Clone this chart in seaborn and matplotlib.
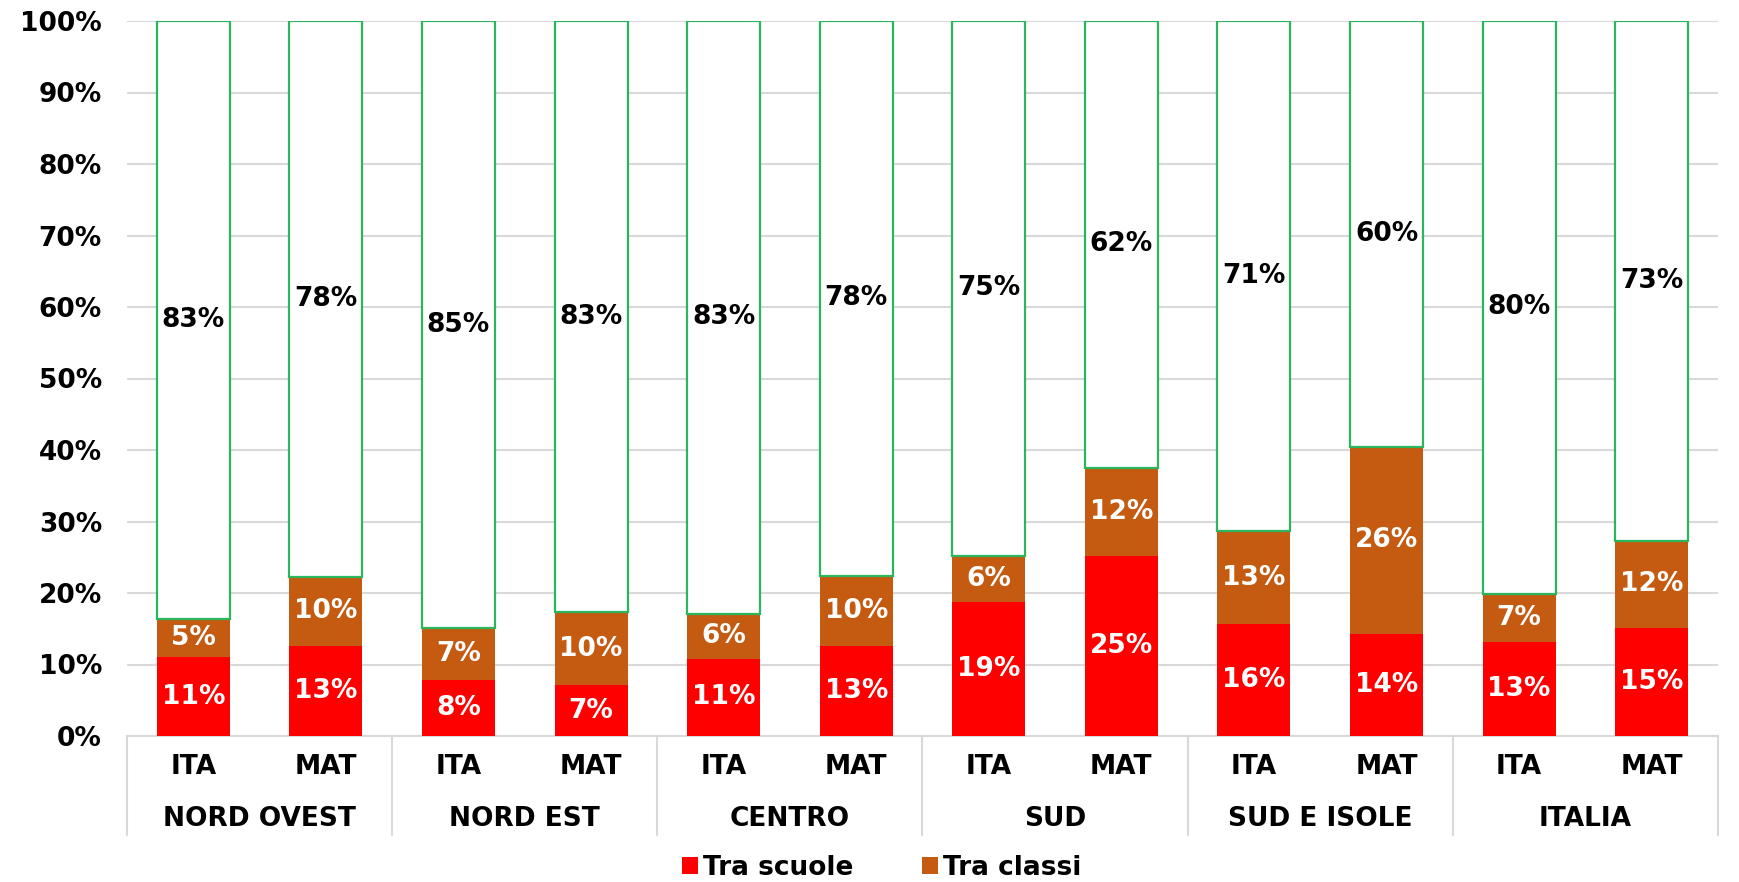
import numpy as np
import pandas as pd
import matplotlib
matplotlib.use("Agg")
import matplotlib.pyplot as plt
import matplotlib.transforms as mtransforms
from matplotlib.patches import Patch
from matplotlib.lines import Line2D
import seaborn as sns

# ---- data ----
regions = ["NORD OVEST", "NORD EST", "CENTRO", "SUD", "SUD E ISOLE", "ITALIA"]
subjects = ["ITA", "MAT"]
tra_scuole = [11.0, 12.6, 7.9, 7.1, 10.8, 12.6, 18.8, 25.2, 15.6, 14.3, 13.2, 15.1]
tra_classi = [5.4, 9.7, 7.2, 10.2, 6.3, 9.8, 6.4, 12.3, 13.1, 26.1, 6.7, 12.2]
entro_classi = [83.4, 77.7, 84.9, 82.7, 82.9, 77.6, 74.8, 62.4, 71.3, 59.6, 80.1, 72.7]
series_names = ["Tra scuole", "Tra classi"]
yticks = [0, 10, 20, 30, 40, 50, 60, 70, 80, 90, 100]

# ---- style ----
sns.set_theme(style="white")
plt.rcParams["font.family"] = ["DejaVu Sans"]
plt.rcParams["font.weight"] = "bold"
plt.rcParams["text.color"] = "black"

RED = "#FF0000"
ORANGE = "#C55A11"
GREEN = "#2BB55C"
GRID = "#D9D9D9"
FS = 19

keys = [f"{r}|{s}" for r in regions for s in subjects]
df = pd.DataFrame({"key": keys, "scuole": tra_scuole, "classi": tra_classi, "entro": entro_classi})
tot = df[["scuole", "classi", "entro"]].sum(axis=1)
df["p_scuole"] = df["scuole"] / tot * 100
df["p_classi"] = df["classi"] / tot * 100
df["p_entro"] = df["entro"] / tot * 100
df["b_classi"] = df["p_scuole"]
df["b_entro"] = df["p_scuole"] + df["p_classi"]

fig = plt.figure(figsize=(17.4, 8.82), dpi=100)
ax = fig.add_axes([127 / 1740, 1 - 736 / 882, (1718 - 127) / 1740, (736 - 21) / 882])

W = 0.55
sns.barplot(data=df, x="key", y="p_scuole", order=keys, color=RED, width=W,
            saturation=1, linewidth=0, ax=ax, zorder=3)
sns.barplot(data=df, x="key", y="p_classi", order=keys, color=ORANGE, width=W,
            saturation=1, linewidth=0, ax=ax, bottom=df["b_classi"].values, zorder=3)
sns.barplot(data=df, x="key", y="p_entro", order=keys, color="white", width=W,
            saturation=1, edgecolor=GREEN, linewidth=1.6, ax=ax,
            bottom=df["b_entro"].values, zorder=3)

# labels
for i, row in df.iterrows():
    ax.text(i, row["p_scuole"] / 2, f"{row['scuole']:.0f}%", ha="center", va="center",
            color="white", fontsize=FS, fontweight="bold", zorder=5)
    ax.text(i, row["b_classi"] + row["p_classi"] / 2, f"{row['classi']:.0f}%", ha="center",
            va="center", color="white", fontsize=FS, fontweight="bold", zorder=5)
    ax.text(i, row["b_entro"] + row["p_entro"] / 2, f"{row['entro']:.0f}%", ha="center",
            va="center", color="black", fontsize=FS, fontweight="bold", zorder=5)

ax.set_ylim(0, 100)
ax.set_xlim(-0.5, len(keys) - 0.5)
ax.set_yticks(yticks)
ax.set_yticklabels([f"{t}%" for t in yticks], fontsize=FS, fontweight="bold", color="black")
ax.set_xticks(range(len(keys)))
ax.set_xticklabels([k.split("|")[1] for k in keys], fontsize=FS, fontweight="bold", color="black")
ax.tick_params(axis="y", length=0, pad=18)
ax.tick_params(axis="x", length=0, pad=13)
ax.set_xlabel("")
ax.set_ylabel("")
ax.yaxis.grid(True, color=GRID, linewidth=1.5, zorder=0)
ax.set_axisbelow(True)
for s in ["left", "right", "top"]:
    ax.spines[s].set_visible(False)
ax.spines["bottom"].set_color(GRID)
ax.spines["bottom"].set_linewidth(1.5)

# group labels and separators
trans = mtransforms.blended_transform_factory(ax.transData, ax.transAxes)
for g, r in enumerate(regions):
    ax.text(2 * g + 0.5, -0.116, r, transform=trans, ha="center", va="center",
            fontsize=FS, fontweight="bold", color="black")
for b in range(len(regions) + 1):
    xb = 2 * b - 0.5
    ax.add_line(Line2D([xb, xb], [0, -0.138], transform=trans, color=GRID,
                       linewidth=1.5, clip_on=False))

handles = [Patch(facecolor=RED, edgecolor="none"), Patch(facecolor=ORANGE, edgecolor="none")]
fig.legend(handles, series_names, loc="center", bbox_to_anchor=(882 / 1740, 1 - 868 / 882),
           ncol=2, frameon=False, handlelength=0.6, handleheight=0.6,
           handletextpad=0.2, columnspacing=2.6, labelcolor="black",
           prop={"weight": "bold", "size": FS})

fig.savefig("out.png", dpi=100, facecolor="white")
